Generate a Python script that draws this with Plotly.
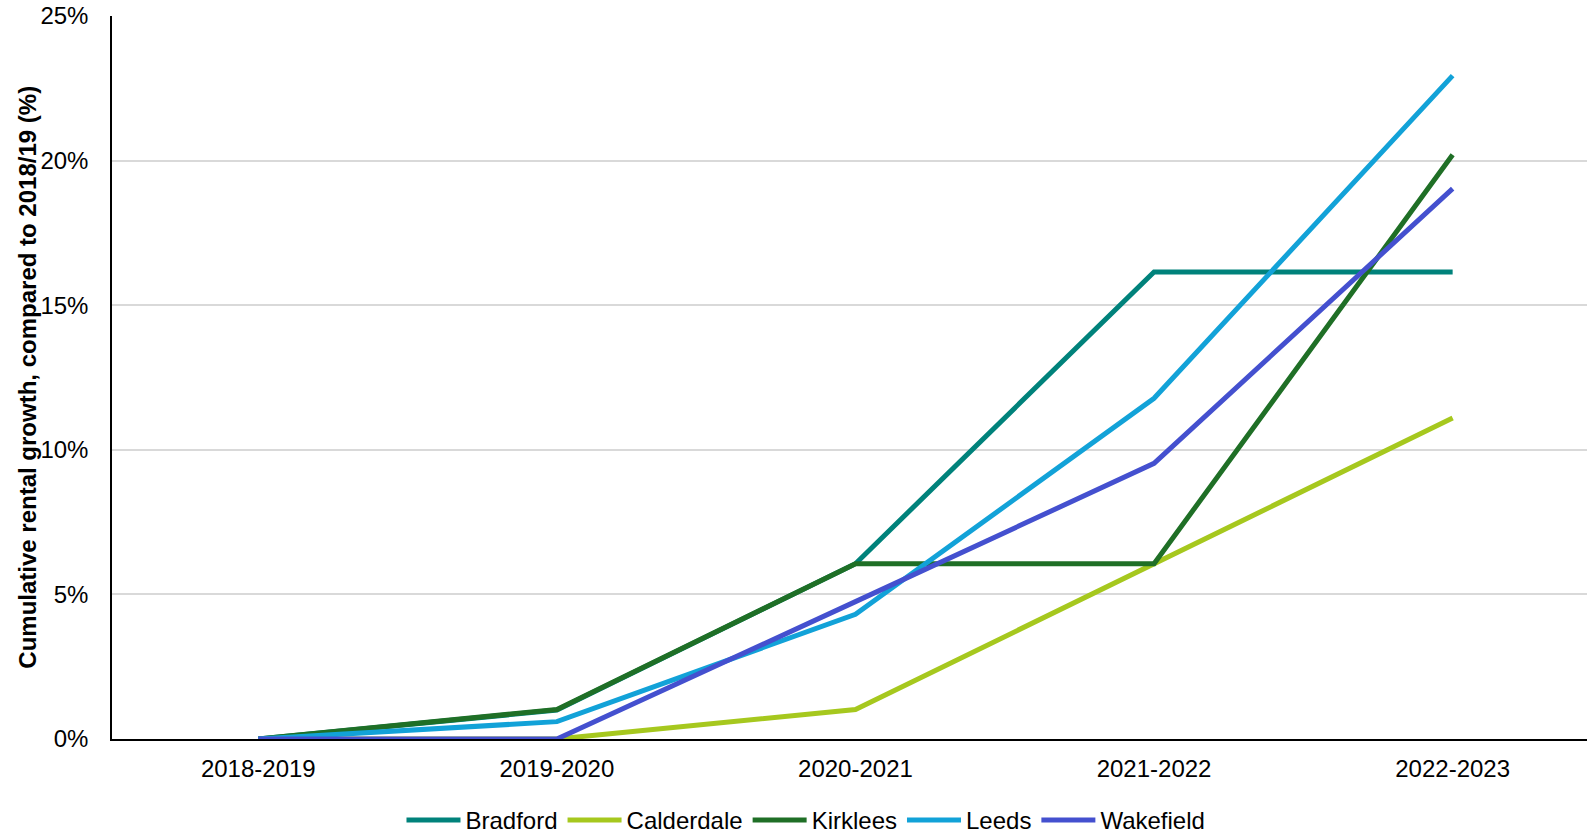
import plotly.graph_objects as go

years = ["2018-2019", "2019-2020", "2020-2021", "2021-2022", "2022-2023"]
bradford = [0.0, 1.0, 6.06, 16.15, 16.15]
calderdale = [0.0, 0.0, 1.02, 6.05, 11.1]
kirklees = [0.0, 1.02, 6.06, 6.06, 20.2]
leeds = [0.0, 0.6, 4.31, 11.78, 22.94]
wakefield = [0.0, 0.0, 4.75, 9.53, 19.03]

series = [
    ("Bradford", bradford, "#00827B"),
    ("Calderdale", calderdale, "#A6C81E"),
    ("Kirklees", kirklees, "#1F6F26"),
    ("Leeds", leeds, "#12A2D8"),
    ("Wakefield", wakefield, "#4450CF"),
]

FONT = "Liberation Sans, Arial, sans-serif"
fig = go.Figure()
for name, vals, col in series:
    fig.add_trace(go.Scatter(x=years, y=vals, name=name, mode="lines",
                             line=dict(color=col, width=5),
                             cliponaxis=False))

fig.update_layout(
    width=1587, height=833,
    margin=dict(l=112, r=0, t=16, b=94, autoexpand=False),
    paper_bgcolor="white", plot_bgcolor="white",
    font=dict(family=FONT, size=24, color="black"),
    showlegend=True,
    legend=dict(orientation="h", x=0.4705, xanchor="center", y=-0.1125,
                yanchor="middle", font=dict(size=24), itemwidth=54,
                bgcolor="rgba(0,0,0,0)"),
    annotations=[dict(text="<b>Cumulative rental growth, compared to 2018/19 (%)</b>",
                      xref="paper", yref="paper", x=-0.0575, y=0.5,
                      xanchor="center", yanchor="middle", textangle=-90,
                      showarrow=False, font=dict(size=24, family=FONT))],
)
fig.update_xaxes(type="category", range=[-0.49, 4.45], showgrid=False,
                 showline=True, linecolor="black", linewidth=1.5,
                 ticks="", ticklabelstandoff=7, layer="below traces",
                 tickfont=dict(size=24))
fig.update_yaxes(range=[0, 25], dtick=5, ticksuffix="%", showgrid=True,
                 gridcolor="#D9D9D9", gridwidth=1.5, zeroline=False,
                 showline=True, linecolor="black", linewidth=1.5,
                 ticks="", ticklabelstandoff=17, layer="below traces",
                 tickfont=dict(size=24))

fig.write_html("out.html")
